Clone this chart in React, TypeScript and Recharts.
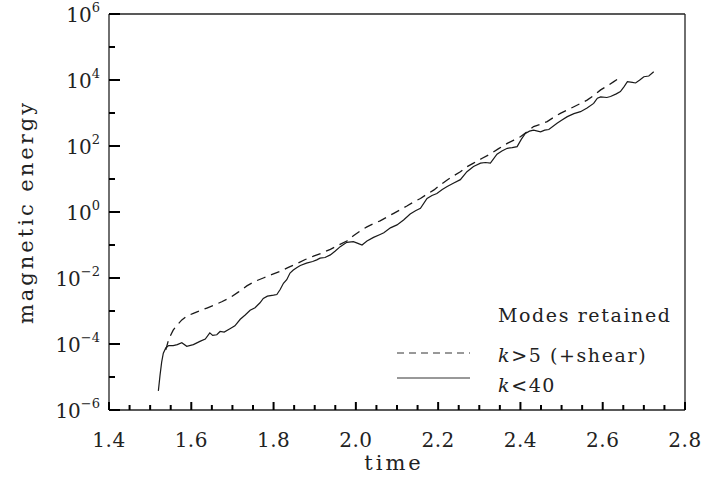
import React from "react";
import { LineChart, Line, XAxis, YAxis, Legend } from "recharts";

// time values and log10(magnetic energy) for k<40 (solid)
const solidTime = [
  1.52, 1.524, 1.528, 1.532, 1.538, 1.545, 1.556, 1.566, 1.577, 1.589, 1.605, 1.621, 1.634, 1.645, 1.652,
  1.662, 1.67, 1.68, 1.694, 1.706, 1.719, 1.731, 1.743, 1.755, 1.767, 1.775, 1.785, 1.8, 1.808, 1.816,
  1.824, 1.832, 1.84, 1.848, 1.857, 1.865, 1.88, 1.895, 1.905, 1.913, 1.925, 1.938, 1.95, 1.962, 1.978,
  1.994, 2.005, 2.015, 2.027, 2.043, 2.059, 2.068, 2.084, 2.1, 2.116, 2.132, 2.145, 2.157, 2.173, 2.185,
  2.197, 2.21, 2.222, 2.238, 2.254, 2.27, 2.286, 2.303, 2.315, 2.327, 2.343, 2.355, 2.368, 2.38, 2.392,
  2.402, 2.412, 2.422, 2.432, 2.449, 2.459, 2.469, 2.489, 2.5, 2.514, 2.53, 2.546, 2.562, 2.578, 2.587,
  2.595, 2.61, 2.619, 2.633, 2.643, 2.652, 2.66, 2.672, 2.68, 2.69, 2.7, 2.712, 2.724,
];
const solidLogEnergy = [
  -5.42, -4.95, -4.55, -4.28, -4.12, -4.05, -4.05, -4.02, -3.96, -4.07, -4.02, -3.92, -3.85, -3.66, -3.74,
  -3.72, -3.62, -3.64, -3.54, -3.45, -3.25, -3.12, -2.98, -2.9, -2.75, -2.62, -2.55, -2.52, -2.5, -2.35,
  -2.16, -2.05, -1.85, -1.76, -1.68, -1.62, -1.55, -1.5, -1.45, -1.4, -1.38, -1.3, -1.18, -1.05, -0.92,
  -0.9, -0.95, -1.0, -0.88, -0.77, -0.68, -0.63, -0.48, -0.39, -0.24, -0.06, 0.04, 0.11, 0.41, 0.5,
  0.56, 0.68, 0.77, 0.88, 0.98, 1.22, 1.38, 1.48, 1.5, 1.48, 1.75, 1.85, 1.93, 1.95, 1.98,
  2.2, 2.38, 2.45, 2.48, 2.43, 2.48, 2.5, 2.69, 2.78, 2.89, 2.98, 3.04, 3.15, 3.29, 3.45,
  3.49, 3.47, 3.5, 3.58, 3.65, 3.8, 3.95, 3.93, 3.91, 4.0, 4.1, 4.12, 4.25,
];

// time values and log10(magnetic energy) for k>5 (+shear) (dashed)
const dashedTime = [
  1.538, 1.543, 1.548, 1.556, 1.566, 1.577, 1.59, 1.605, 1.621, 1.638, 1.654, 1.674, 1.694, 1.715, 1.735,
  1.755, 1.775, 1.795, 1.816, 1.836, 1.857, 1.877, 1.897, 1.918, 1.938, 1.958, 1.978, 1.994, 2.01, 2.027,
  2.043, 2.059, 2.076, 2.092, 2.108, 2.124, 2.14, 2.157, 2.173, 2.19, 2.205, 2.222, 2.238, 2.254, 2.27,
  2.286, 2.306, 2.327, 2.347, 2.368, 2.384, 2.4, 2.416, 2.432, 2.449, 2.465, 2.481, 2.497, 2.514, 2.53,
  2.546, 2.562, 2.578, 2.595, 2.611, 2.627, 2.643,
];
const dashedLogEnergy = [
  -4.18, -3.95, -3.78, -3.58, -3.42, -3.27, -3.15, -3.07, -2.99, -2.91, -2.83, -2.72, -2.6, -2.42, -2.24,
  -2.1, -2.0, -1.9, -1.8, -1.68, -1.56, -1.44, -1.34, -1.24, -1.13, -1.0, -0.88, -0.72, -0.58, -0.45,
  -0.35, -0.27, -0.15, -0.04, 0.07, 0.18, 0.3, 0.41, 0.54, 0.67, 0.82, 0.97, 1.1, 1.22, 1.37,
  1.48, 1.62, 1.76, 1.92, 2.08, 2.18, 2.28, 2.43, 2.59, 2.66, 2.74, 2.87, 2.99, 3.09, 3.19,
  3.29, 3.39, 3.53, 3.7, 3.82, 3.95, 4.08,
];

const xTicks = [
  1.4, 1.45, 1.5, 1.55, 1.6, 1.65, 1.7, 1.75, 1.8, 1.85, 1.9, 1.95, 2.0, 2.05, 2.1, 2.15, 2.2, 2.25, 2.3,
  2.35, 2.4, 2.45, 2.5, 2.55, 2.6, 2.65, 2.7, 2.75, 2.8,
];
const xMajorLabels = ["1.4", "1.6", "1.8", "2.0", "2.2", "2.4", "2.6", "2.8"];
const yTicks = [-6, -5, -4, -3, -2, -1, 0, 1, 2, 3, 4, 5, 6];
const yMajorExponents = [-6, -4, -2, 0, 2, 4, 6];

const legendTitle = "Modes retained";
const dashedName = ">5 (+shear)";
const solidName = "<40";

const solidData = solidTime.map((t, i) => ({ t, e: solidLogEnergy[i] }));
const dashedData = dashedTime.map((t, i) => ({ t, e: dashedLogEnergy[i] }));

const FONT = "'DejaVu Serif', serif";
const INK = "#222";
const TICK_COLOR = "#000";
const TICK_W = 2;

const isMajorX = (v: number) =>
  Math.abs(v * 5 - Math.round(v * 5)) < 1e-6 && xMajorLabels.includes(v.toFixed(1));

function BottomTick(props: any) {
  const { x, y, payload } = props;
  const v = payload.value as number;
  const major = isMajorX(v);
  return (
    <g>
      <line x1={x} y1={y} x2={x} y2={y - (major ? 8 : 5)} stroke={TICK_COLOR} strokeWidth={TICK_W} />
      {major && (
        <text x={x} y={y + 37} textAnchor="middle" fontFamily={FONT} fontSize={20} letterSpacing={0.5} fill={INK}>
          {v.toFixed(1)}
        </text>
      )}
    </g>
  );
}

function TopTick(props: any) {
  const { x, y, payload } = props;
  const major = isMajorX(payload.value);
  return (
    <g>
      <line x1={x} y1={y} x2={x} y2={y + (major ? 8 : 5)} stroke={TICK_COLOR} strokeWidth={TICK_W} />
    </g>
  );
}

function LeftTick(props: any) {
  const { x, y, payload } = props;
  const v = payload.value as number;
  const major = yMajorExponents.includes(v);
  return (
    <g>
      <line x1={x} y1={y} x2={x + (major ? 11 : 6)} y2={y} stroke={TICK_COLOR} strokeWidth={TICK_W} />
      {major && (
        <text x={x - 9} y={y + 8} textAnchor="end" fontFamily={FONT} fontSize={20} fill={INK}>
          10
          <tspan dy={-10} fontSize={13}>
            {v < 0 ? "\u2212" + Math.abs(v) : String(v)}
          </tspan>
        </text>
      )}
    </g>
  );
}

function RightTick(props: any) {
  const { x, y, payload } = props;
  const major = yMajorExponents.includes(payload.value);
  return (
    <g>
      <line x1={x} y1={y} x2={x - (major ? 11 : 6)} y2={y} stroke={TICK_COLOR} strokeWidth={TICK_W} />
    </g>
  );
}

const renderXTitle = (props: any) => {
  const vb = props.viewBox || { x: 109, y: 410, width: 576, height: 71 };
  return (
    <text x={vb.x + vb.width / 2 - 3} y={vb.y + 60} textAnchor="middle" fontFamily={FONT} fontSize={21} letterSpacing={3} fill={INK}>
      time
    </text>
  );
};

const renderYTitle = (props: any) => {
  const vb = props.viewBox || { x: 0, y: 14, width: 109, height: 396 };
  const cx = vb.x + 33;
  const cy = vb.y + vb.height / 2;
  return (
    <text x={cx} y={cy} transform={`rotate(-90 ${cx} ${cy})`} textAnchor="middle" fontFamily={FONT} fontSize={21} letterSpacing={3} fill={INK}>
      magnetic energy
    </text>
  );
};

const renderLegend = () => (
  <svg width={310} height={110} style={{ display: "block" }}>
    <text x={118} y={32} fontFamily={FONT} fontSize={19} letterSpacing={1.6} fill={INK}>
      {legendTitle}
    </text>
    <line x1={17} x2={90} y1={63} y2={63} stroke="#333" strokeWidth={1} strokeDasharray="7 5" />
    <text x={118} y={72} fontFamily={FONT} fontSize={19} letterSpacing={1.6} fill={INK}>
      <tspan fontStyle="italic">k</tspan>
      {dashedName}
    </text>
    <line x1={17} x2={90} y1={88} y2={88} stroke="#333" strokeWidth={1} />
    <text x={118} y={102} fontFamily={FONT} fontSize={19} letterSpacing={1.6} fill={INK}>
      <tspan fontStyle="italic">k</tspan>
      {solidName}
    </text>
  </svg>
);

const axisLineStyle = { stroke: "#222", strokeWidth: 1.3 };

export default function App() {
  return (
    <div style={{ position: "absolute", left: 0, top: 0, width: 705, height: 481, background: "#fff" }}>
      <LineChart width={705} height={481} margin={{ top: 13, right: 19, left: 0, bottom: 0 }}>
        <XAxis
          xAxisId="b"
          dataKey="t"
          type="number"
          domain={[1.4, 2.8]}
          ticks={xTicks}
          interval={0}
          height={71}
          tickSize={0}
          tickMargin={0}
          tickLine={false}
          axisLine={axisLineStyle}
          tick={(p: any) => <BottomTick {...p} />}
          label={renderXTitle}
        />
        <XAxis
          xAxisId="t"
          orientation="top"
          dataKey="t"
          type="number"
          domain={[1.4, 2.8]}
          ticks={xTicks}
          interval={0}
          height={1}
          tickSize={0}
          tickMargin={0}
          tickLine={false}
          axisLine={axisLineStyle}
          tick={(p: any) => <TopTick {...p} />}
        />
        <YAxis
          yAxisId="l"
          type="number"
          domain={[-6, 6]}
          ticks={yTicks}
          interval={0}
          width={109}
          tickSize={0}
          tickMargin={0}
          tickLine={false}
          axisLine={axisLineStyle}
          tick={(p: any) => <LeftTick {...p} />}
          label={renderYTitle}
        />
        <YAxis
          yAxisId="r"
          orientation="right"
          type="number"
          domain={[-6, 6]}
          ticks={yTicks}
          interval={0}
          width={1}
          tickSize={0}
          tickMargin={0}
          tickLine={false}
          axisLine={axisLineStyle}
          tick={(p: any) => <RightTick {...p} />}
        />
        <Legend
          layout="horizontal"
          verticalAlign="middle"
          align="center"
          wrapperStyle={{ left: 380, top: 290, width: 310, height: 110 }}
          content={renderLegend}
        />
        <Line
          xAxisId="b"
          yAxisId="l"
          data={dashedData}
          dataKey="e"
          name="k>5 (+shear)"
          type="linear"
          stroke="#1a1a1a"
          strokeWidth={1.3}
          strokeDasharray="9 6"
          dot={false}
          activeDot={false}
          isAnimationActive={false}
        />
        <Line
          xAxisId="b"
          yAxisId="l"
          data={solidData}
          dataKey="e"
          name="k<40"
          type="linear"
          stroke="#1a1a1a"
          strokeWidth={1.2}
          dot={false}
          activeDot={false}
          isAnimationActive={false}
        />
      </LineChart>
    </div>
  );
}
